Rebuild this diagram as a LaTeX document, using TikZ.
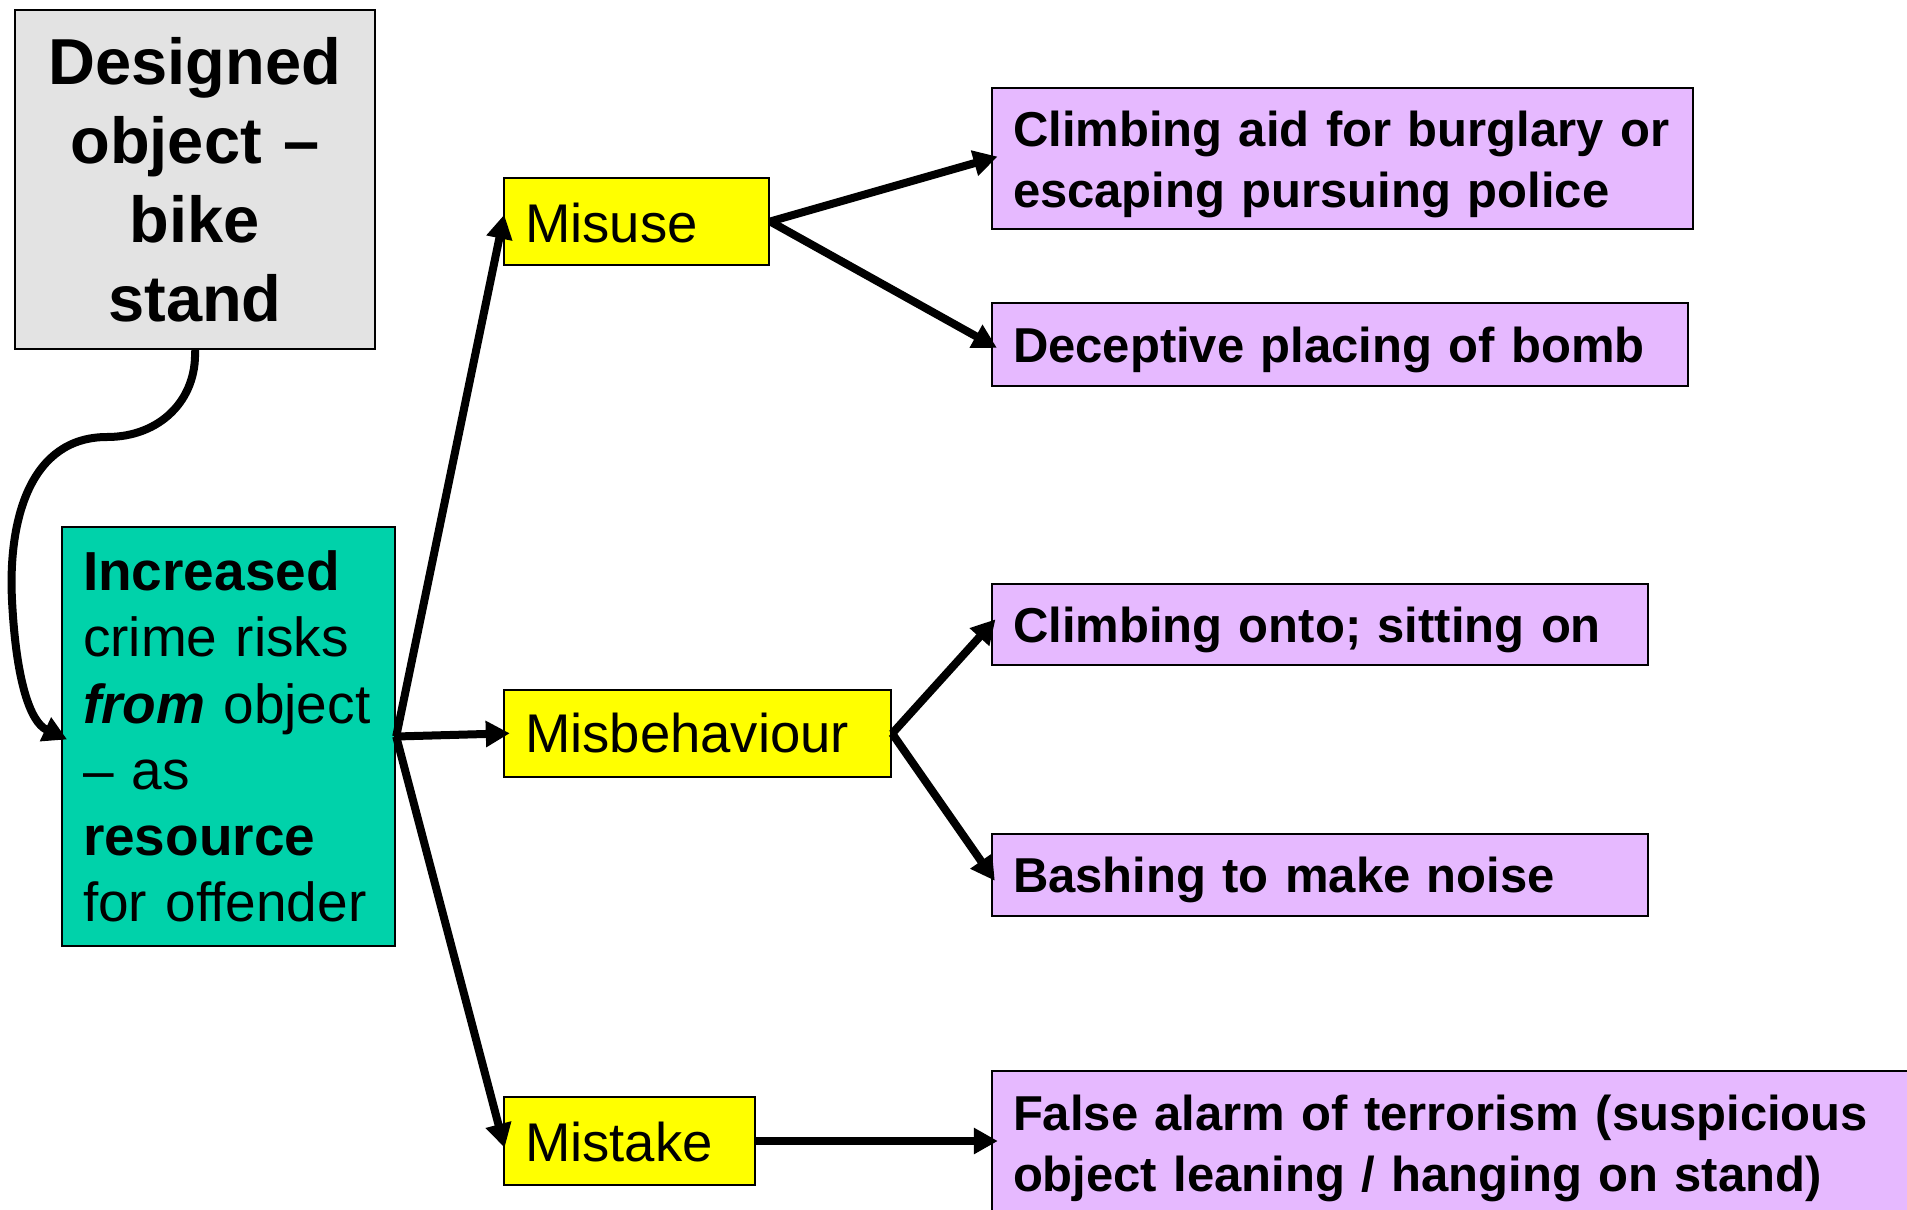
\documentclass[tikz,border=0pt]{standalone}
\usepackage{fontspec}
\setmainfont{Liberation Sans}
\usetikzlibrary{arrows.meta}
\definecolor{objgray}{HTML}{E3E3E3}
\definecolor{riskgreen}{HTML}{00D2AA}
\definecolor{kindyellow}{HTML}{FFFF00}
\definecolor{effectpurple}{HTML}{E6B9FF}
\tikzset{
  box/.style={draw=black, line width=2.4pt, inner xsep=21pt, inner ysep=0pt, align=left},
  kind/.style={box, fill=kindyellow, font=\fontsize{54.5}{65}\selectfont},
  effect/.style={box, fill=effectpurple, font=\bfseries\fontsize{49}{61}\selectfont},
  oneline/.style={text depth=0pt},
  arr/.style={line width=8pt, shorten >=-7pt, -{Triangle[length=24pt,width=25pt]}}
}
\begin{document}
\begin{tikzpicture}[x=1pt,y=-1pt]
\useasboundingbox (0,0) rectangle (1907,1210);
\clip (0,0) rectangle (1907,1210);

% source object and the risk it gives rise to
\node[box, fill=objgray, align=center, text width=318pt, minimum height=339pt,
      font=\bfseries\fontsize{65}{79}\selectfont] (designed) at (195,179.5)
  {Designed\\ object --\\ bike\\ stand};
\node[box, fill=riskgreen, text width=291pt, minimum height=419pt,
      font=\fontsize{55}{66.2}\selectfont] (risk) at (228.5,736.5)
  {\textbf{Increased}\\ crime risks\\ \textbf{\textit{from}} object\\ -- as\\ \textbf{resource}\\ for offender};

% kinds of crime risk
\node[kind, text height=42pt, text width=223pt, minimum height=87pt] (misuse) at (636.5,221.5) {Misuse};
\node[kind, text width=345pt, minimum height=87pt] (misbehaviour) at (697.5,733.5) {Misbehaviour};
\node[kind, text height=42pt, text width=209pt, minimum height=88pt] (mistake) at (629.5,1141) {Mistake};

% examples
\node[effect, text height=48pt, text width=659pt, minimum height=141pt] (climbaid) at (1342.5,158.5)
  {\mbox{Climbing aid for burglary or}\\ escaping pursuing police};
\node[effect, oneline, text width=654pt, minimum height=83pt] (bomb) at (1340,344.5)
  {Deceptive placing of bomb};
\node[effect, oneline, text width=614pt, minimum height=81pt] (climbonto) at (1320,624.5)
  {Climbing onto; sitting on};
\node[effect, oneline, text width=614pt, minimum height=82pt] (bashing) at (1320,875)
  {Bashing to make noise};
\node[effect, text width=903pt, minimum height=154pt] (falsealarm) at (1464.5,1148)
  {\mbox{False alarm of terrorism (suspicious}\\ \mbox{object leaning / hanging on stand)}};

% connectors
\draw[arr] (designed.south) .. controls (197,400) and (160,437) .. (107,437)
  .. controls (30,437) and (8,520) .. (12,600)
  .. controls (16,680) and (30,722) .. (risk.west);
\draw[arr] (risk.east) -- (misuse.west);
\draw[arr] (risk.east) -- (misbehaviour.west);
\draw[arr] (risk.east) -- (mistake.west);
\draw[arr] (misuse.east) -- (climbaid.west);
\draw[arr] (misuse.east) -- (bomb.west);
\draw[arr] (misbehaviour.east) -- (climbonto.west);
\draw[arr] (misbehaviour.east) -- (bashing.west);
\draw[arr] (mistake.east) -- (mistake.east -| falsealarm.west);
\end{tikzpicture}
\end{document}
